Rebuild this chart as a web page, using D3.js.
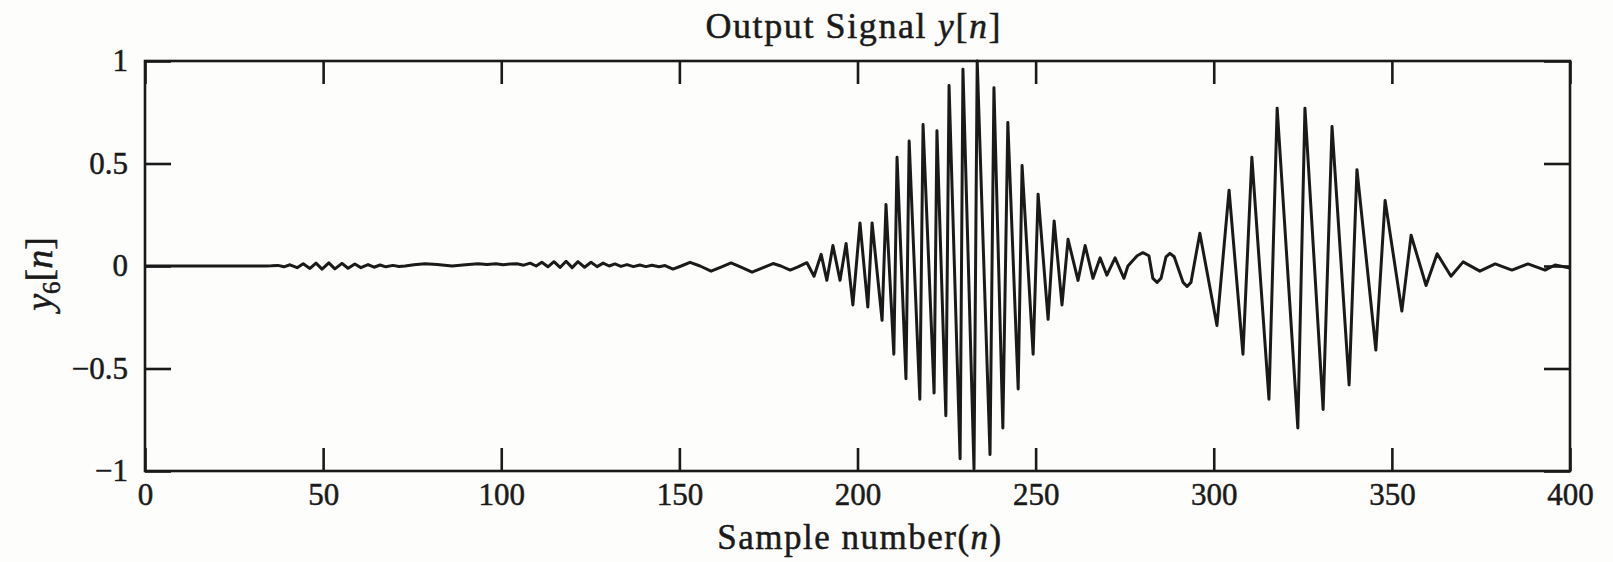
<!DOCTYPE html>
<html><head><meta charset="utf-8">
<script src="https://cdn.jsdelivr.net/npm/d3@7"></script>
<style>
body{margin:0;background:#fff}
svg{display:block}
text{font-family:"Liberation Serif","Times New Roman",serif;fill:#1a1a1a;stroke:#1a1a1a;stroke-width:0.5px}
</style>
</head><body>
<svg id="c" width="1613" height="562"></svg>
<script>
// ---- data (sample number n, value y6[n]) ----
const xTicks = [0, 50, 100, 150, 200, 250, 300, 350, 400];
const yTicks = [-1, -0.5, 0, 0.5, 1];
const yTickLabels = ["\u22121", "\u22120.5", "0", "0.5", "1"];

const quietLead = [[0,0],[34,0]];
const rippleA = [[35.5,0.001],[37.3,0.003],[39.0,-0.004],[40.7,0.006],[42.7,-0.008],[44.4,0.011],[46.3,-0.012],[48.0,0.014],[49.7,-0.015],[51.6,0.015],[53.3,-0.014],[55.3,0.013],[57.0,-0.011],[58.9,0.010],[60.6,-0.008],[62.6,0.007],[64.3,-0.006],[66.0,0.005],[67.6,-0.004],[69.6,0.003],[71.3,-0.002]];
const driftB = [[73.0,0.0],[75.5,0.006],[78.6,0.011],[82.0,0.007],[86.2,0.0],[90.0,0.006],[93.5,0.011],[96.0,0.007],[98.5,0.011],[100.5,0.006],[102.5,0.010]];
const rippleC = [[104.4,0.011],[106.3,0.004],[108.1,0.014],[109.8,0.0],[111.4,0.018],[113.1,-0.004],[114.8,0.021],[116.5,-0.007],[118.2,0.023],[119.9,-0.008],[121.5,0.021],[123.4,-0.006],[125.2,0.018],[126.9,-0.003],[128.6,0.014],[130.3,0.0],[131.9,0.010],[133.6,-0.002],[135.3,0.007],[137.1,-0.003],[138.9,0.005],[140.6,-0.003],[142.3,0.004],[144.3,-0.004],[146.0,0.002]];
const lowWave = [[148.2,-0.015],[150.5,0.0],[153.0,0.018],[155.8,0.0],[158.9,-0.025],[161.7,-0.005],[164.5,0.015],[167.3,-0.006],[170.4,-0.03],[173.2,-0.01],[176.3,0.012],[178.5,0.0],[181.1,-0.02],[183.3,-0.004],[185.8,0.016]];
const burstMain = [[187.8,-0.05],[189.8,0.057],[191.4,-0.07],[193.1,0.10],[195.1,-0.07],[196.8,0.11],[198.7,-0.19],[200.7,0.21],[202.9,-0.20],[204.1,0.21],[206.9,-0.265],[208.0,0.30],[210.2,-0.43],[211.1,0.53],[213.6,-0.55],[214.5,0.61],[217.5,-0.65],[218.4,0.69],[221.5,-0.62],[222.3,0.66],[224.8,-0.73],[225.7,0.88],[228.8,-0.94],[229.6,0.96],[232.7,-0.99],[233.6,1.0],[237.2,-0.92],[238.3,0.87],[240.8,-0.79],[242.2,0.70],[245.1,-0.60],[246.2,0.49],[249.3,-0.43],[250.7,0.35],[253.5,-0.26],[255.2,0.22],[257.4,-0.19],[259.1,0.13],[261.9,-0.07],[263.9,0.10],[266.1,-0.06],[268.1,0.04],[270.0,-0.045],[272.3,0.04],[274.8,-0.06],[275.9,0.0]];
const burstSecond = [[278.5,0.05],[280.1,0.065],[281.8,0.05],[282.9,-0.06],[284.1,-0.08],[285.2,-0.06],[286.6,0.045],[287.7,0.062],[288.9,0.045],[291.4,-0.08],[292.5,-0.10],[293.6,-0.08],[296.1,0.16],[300.9,-0.29],[304.3,0.37],[308.2,-0.43],[310.7,0.53],[315.5,-0.65],[317.8,0.77],[323.6,-0.79],[325.6,0.77],[330.7,-0.70],[333.2,0.68],[338.0,-0.58],[340.2,0.47],[345.5,-0.41],[348.1,0.32],[352.8,-0.22],[355.4,0.15],[359.6,-0.095]];
const tail = [[362.7,0.06],[366.6,-0.05],[370.0,0.02],[374.7,-0.025],[379.0,0.01],[383.7,-0.02],[388.2,0.01],[393.0,-0.02],[395.8,0.005],[400,-0.01]];

const signal = [].concat(quietLead, rippleA, driftB, rippleC, lowWave, burstMain, burstSecond, tail);

// ---- layout ----
const svg = d3.select("#c");
svg.append("rect").attr("width",1613).attr("height",562).attr("fill","#fdfdfc");

const x = d3.scaleLinear().domain([0,400]).range([145,1570]);
const y = d3.scaleLinear().domain([-1,1]).range([471,61]);
const ink = "#1a1a1a";

// signal
svg.append("path")
  .datum(signal)
  .attr("fill","none")
  .attr("stroke",ink)
  .attr("stroke-width",3)
  .attr("stroke-linejoin","round")
  .attr("d", d3.line().x(d=>x(d[0])).y(d=>y(d[1])));

// axes (ticks inside, MATLAB style)
const fs = 31;
const gB = svg.append("g").attr("transform",`translate(0,${y(-1)})`)
  .call(d3.axisBottom(x).tickValues(xTicks).tickSize(-23).tickSizeOuter(0).tickPadding(12).tickFormat(d=>String(d)));
const gT = svg.append("g").attr("transform",`translate(0,${y(1)})`)
  .call(d3.axisTop(x).tickValues(xTicks).tickSize(-23).tickSizeOuter(0).tickFormat(""));
const gL = svg.append("g").attr("transform",`translate(${x(0)},0)`)
  .call(d3.axisLeft(y).tickValues(yTicks).tickSize(-26).tickSizeOuter(0).tickPadding(17).tickFormat((d,i)=>yTickLabels[i]));
const gR = svg.append("g").attr("transform",`translate(${x(400)},0)`)
  .call(d3.axisRight(y).tickValues(yTicks).tickSize(-26).tickSizeOuter(0).tickFormat(""));
[gB,gT,gL,gR].forEach(g=>{
  g.select(".domain").remove();
  g.selectAll(".tick line").attr("stroke",ink).attr("stroke-width",2.6);
  g.selectAll(".tick text").attr("font-size",fs).attr("fill",ink)
    .style("font-family",'"Liberation Serif","Times New Roman",serif');
});

// frame
svg.append("rect")
  .attr("x",x(0)).attr("y",y(1))
  .attr("width",x(400)-x(0)).attr("height",y(-1)-y(1))
  .attr("fill","none").attr("stroke",ink).attr("stroke-width",2.6);

// title
const title = svg.append("text").attr("x",830 * 1613/1568).attr("y",38).attr("text-anchor","middle")
  .attr("font-size",36).attr("letter-spacing",1.6);
title.append("tspan").text("Output Signal ");
title.append("tspan").attr("font-style","italic").text("y");
title.append("tspan").text("[");
title.append("tspan").attr("font-style","italic").text("n");
title.append("tspan").text("]");

// x label
const xl = svg.append("text").attr("x",860).attr("y",549).attr("text-anchor","middle")
  .attr("font-size",35).attr("letter-spacing",1.5);
xl.append("tspan").text("Sample number(");
xl.append("tspan").attr("font-style","italic").text("n");
xl.append("tspan").text(")");

// y label
const yl = svg.append("text").attr("transform","translate(52,274) rotate(-90)")
  .attr("text-anchor","middle").attr("font-size",38);
yl.append("tspan").attr("font-style","italic").text("y");
yl.append("tspan").attr("font-size",25).attr("dy",8).text("6");
yl.append("tspan").attr("dy",-8).text("[");
yl.append("tspan").attr("font-style","italic").text("n");
yl.append("tspan").text("]");
</script>
</body></html>
